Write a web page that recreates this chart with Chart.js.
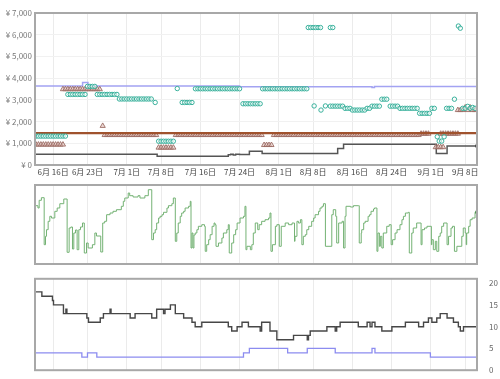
<!DOCTYPE html>
<html><head><meta charset="utf-8">
<script src="https://cdn.jsdelivr.net/npm/chart.js@4.4.0/dist/chart.umd.min.js"></script>
<style>
html,body{margin:0;padding:0;background:#fff;width:500px;height:379px;overflow:hidden}
canvas{position:absolute;left:0}
#c1{top:0}#c2{top:180px}#c3{top:270px}
</style></head><body>
<canvas id="c1" width="500" height="180"></canvas>
<canvas id="c2" width="500" height="90"></canvas>
<canvas id="c3" width="500" height="109"></canvas>
<script>
// x values are days since 6月16日
const tickDays = [0,7,15,22,30,38,46,53,61,69,77,84];
const tickLabels = ['6月 16日','6月 23日','7月 1日','7月 8日','7月 16日','7月 24日','8月 1日','8月 8日','8月 16日','8月 24日','9月 1日','9月 8日'];
const xMin = -3.7, xMax = 86.4;

// top panel (yen)
const listPriceLine = [[-3.7,3640],[6.0,3800],[7.1,3640],[38,3600],[65,3570],[65.5,3610],[86.4,3610]];
const brownPriceLine = [[-3.7,1470],[86.4,1470]];
const darkPriceLine = [[-3.7,500],[21.2,400],[35.7,470],[36.2,490],[36.7,465],[37.2,490],[38,480],[40,630],[42.6,530],[58.0,760],[59.2,960],[78.1,530],[80.3,870],[86.4,870]];
const tealPoints = [
[-3.5,1330],[-3,1330],[-2.5,1330],[-2,1330],[-1.5,1330],[-1,1330],[-0.5,1330],[0,1330],[0.5,1330],[1,1330],[1.5,1330],[2,1330],[2.5,1330],
[3,3250],[3.5,3250],[4,3250],[4.5,3250],[5,3250],[5.5,3250],[6,3250],[6.5,3250],
[7,3620],[7.5,3620],[8,3620],[8.5,3620],
[9,3250],[9.5,3250],[10,3250],[10.5,3250],[11,3250],[11.5,3250],[12,3250],[12.5,3250],[13,3250],
[13.5,3040],[14,3040],[14.5,3040],[15,3040],[15.5,3040],[16,3040],[16.5,3040],[17,3040],[17.5,3040],[18,3040],[18.5,3040],[19,3040],[19.5,3040],[20,3040],
[20.8,2880],
[21.5,1095],[22,1095],[22.5,1095],[23,1095],[23.5,1095],[24,1095],[24.5,1095],
[25.3,3520],
[26.3,2880],[26.8,2880],[27.3,2880],[27.8,2880],[28.3,2880],
[29,3510],[29.5,3510],[30,3510],[30.5,3510],[31,3510],[31.5,3510],[32,3510],[32.5,3510],[33,3510],[33.5,3510],[34,3510],[34.5,3510],[35,3510],[35.5,3510],[36,3510],[36.5,3510],[37,3510],[37.5,3510],[38,3510],
[38.7,2820],[39.2,2820],[39.7,2820],[40.2,2820],[40.7,2820],[41.2,2820],[41.7,2820],[42.2,2820],
[42.7,3510],[43.2,3510],[43.7,3510],[44.2,3510],[44.7,3510],[45.2,3510],[45.7,3510],[46.2,3510],[46.7,3510],[47.2,3510],[47.7,3510],[48.2,3510],[48.7,3510],[49.2,3510],[49.7,3510],[50.2,3510],[50.7,3510],[51.2,3510],[51.7,3510],
[52,6330],[52.5,6330],[53,6330],[53.5,6330],[54,6330],[54.5,6330],[56.5,6330],[57,6330],
[53.2,2720],[54.6,2530],[55.5,2720],
[56.5,2710],[57,2710],[57.5,2710],[58,2710],[58.5,2710],[59,2710],[59.5,2610],[60,2610],[60.5,2610],
[61,2530],[61.5,2530],[62,2530],[62.5,2530],[63,2530],[63.5,2530],[64,2610],[64.5,2610],
[65,2710],[65.5,2710],[66,2710],[66.5,2710],[67,3030],[67.5,3030],[68,3030],
[68.7,2710],[69.2,2710],[69.7,2710],[70.2,2710],
[70.7,2610],[71.2,2610],[71.7,2610],[72.2,2610],[72.7,2610],[73.2,2610],[73.7,2610],[74.2,2610],
[74.7,2380],[75.2,2380],[75.7,2380],[76.2,2380],[76.7,2380],[77.2,2610],[77.7,2610],
[78.3,1300],[78.7,1100],[79.2,1100],[79.7,1300],
[80.2,2610],[80.7,2610],[81.2,2610],[81.8,3030],[82.6,6400],[83,6300],
[83.5,2610],[84,2610],[84.5,2700],[85,2610],[85.5,2650],[86,2610]
];
const trianglePoints = [
[-3.5,940],[-3,940],[-2.5,940],[-2,940],[-1.5,940],[-1,940],[-0.5,940],[0,940],[0.5,940],[1,940],[1.5,940],[2,940],
[2,3490],[2.5,3490],[3,3490],[3.5,3490],[4,3490],[4.5,3490],[5,3490],[5.5,3490],[6,3490],[6.5,3490],[7,3490],[7.5,3490],[8,3490],[8.5,3490],[9,3490],[9.5,3490],
[10.1,1800],
[10.5,1380],[11,1380],[11.5,1380],[12,1380],[12.5,1380],[13,1380],[13.5,1380],[14,1380],[14.5,1380],[15,1380],[15.5,1380],[16,1380],[16.5,1380],[17,1380],[17.5,1380],[18,1380],[18.5,1380],[19,1380],[19.5,1380],[20,1380],[20.5,1380],[21,1380],
[21.5,800],[22,800],[22.5,800],[23,800],[23.5,800],[24,800],[24.5,800],
[25,1380],[25.5,1380],[26,1380],[26.5,1380],[27,1380],[27.5,1380],[28,1380],[28.5,1380],[29,1380],[29.5,1380],[30,1380],[30.5,1380],[31,1380],[31.5,1380],[32,1380],[32.5,1380],[33,1380],[33.5,1380],[34,1380],[34.5,1380],[35,1380],[35.5,1380],[36,1380],[36.5,1380],[37,1380],[37.5,1380],[38,1380],[38.5,1380],[39,1380],[39.5,1380],[40,1380],[40.5,1380],[41,1380],[41.5,1380],[42,1380],[42.5,1380],
[43,920],[43.5,920],[44,920],[44.5,920],
[45,1380],[45.5,1380],[46,1380],[46.5,1380],[47,1380],[47.5,1380],[48,1380],[48.5,1380],[49,1380],[49.5,1380],[50,1380],[50.5,1380],[51,1380],[51.5,1380],[52,1380],[52.5,1380],[53,1380],[53.5,1380],[54,1380],[54.5,1380],[55,1380],[55.5,1380],[56,1380],[56.5,1380],[57,1380],[57.5,1380],[58,1380],[58.5,1380],[59,1380],[59.5,1380],
[60,1380],[60.5,1380],[61,1380],[61.5,1380],[62,1380],[62.5,1380],[63,1380],[63.5,1380],[64,1380],[64.5,1380],[65,1380],[65.5,1380],[66,1380],[66.5,1380],[67,1380],[67.5,1380],[68,1380],[68.5,1380],[69,1380],[69.5,1380],[70,1380],[70.5,1380],[71,1380],[71.5,1380],[72,1380],[72.5,1380],[73,1380],[73.5,1380],[74,1380],[74.5,1380],
[75,1440],[75.5,1440],[76,1440],[76.5,1440],[79,1440],[79.5,1440],[80,1440],[80.5,1440],[81,1440],[81.5,1440],[82,1440],[82.5,1440],
[78,820],[78.5,820],[79,820],[79.5,820],
[82.5,2530],[83,2530],[83.5,2530],[84,2650],[84.5,2530],[85,2650],[85.5,2530],[86,2530]
];

// middle panel (relative sales-rank level, unlabeled)
const rankSteps = [
[-3.6,58.3],[-3.1,56],[-2.85,63.7],[-2.4,66.3],[-1.83,19.3],[-1.56,27.7],[-1.36,34.3],[-1.02,42.7],[-0.68,47.7],[-0.34,46],[0.34,52.7],[0.82,56],[1.36,60.3],[2.17,65],[2.85,11.7],[3.26,36],[3.6,37],[3.94,15],[4.21,31],[4.55,34],[4.89,14.3],[5.23,34.3],[5.57,37],[5.98,41],[6.35,11],[6.8,21],[7.14,16],[8.0,19.3],[8.5,31],[8.83,28],[9.7,12],[10.1,41],[10.5,42.7],[10.9,49.3],[11.6,51],[12.2,52.7],[12.9,54.3],[13.9,57.7],[14.3,62.7],[14.6,66],[15.3,71],[15.6,68.3],[16.3,67],[17.3,68.3],[17.7,66],[18.7,68.3],[19.4,74.3],
[20.1,24.3],[20.45,31],[20.8,34.3],[21.1,41],[21.5,46],[21.8,47.7],[22.2,49.3],[22.5,51.7],[23.2,56],[23.5,58.3],[24.2,60.3],[24.5,66],[24.9,22.7],[25.2,31],[25.5,41],[25.9,47.7],[26.2,51],[26.6,52.7],[26.9,56],[27.6,57.7],[27.95,62.7],[28.1,16],[28.3,31],[28.5,16],[28.7,29],[28.95,31],[29.3,34.3],[29.6,37.7],[30.3,39.3],[30.85,37.7],[31.0,12.7],[31.3,19.3],[31.7,24.3],[32.0,29.3],[32.4,37.7],[32.8,41],[33.0,39.3],[33.2,17.7],[33.7,21],[34.4,26],[34.7,31],[35.4,34.3],[35.7,39.3],[35.9,11],[36.4,21],[36.8,29.3],[37.2,34.3],[37.5,41],[38.1,46],[38.8,47.7],[39.1,57.7],[39.3,14.3],[39.5,17.7],[40.2,14.3],[40.5,19.3],[40.8,31],[41.2,41],
[41.7,34.3],[42.0,39.3],[42.5,42.7],[43.2,44.3],[43.9,46],[44.2,51],[44.4,12.7],[44.7,19.3],[45.3,37.7],[45.6,39.3],[46.1,17.7],[46.5,37.7],[47.3,41],[48.0,39.3],[48.7,41],[49.2,22.7],[49.3,27.7],[49.7,42.7],[50.0,41],[50.4,44.3],[50.7,19.3],[51.0,27.7],[51.4,29.3],[51.7,34.3],[52.1,37.7],[52.7,42.7],[53.1,46],[53.4,49.3],[54.1,52.7],[54.4,56],[54.8,57.7],[55.1,60.3],[55.5,17.7],[56.8,49.3],[57.1,54.3],[57.6,47.7],[57.8,21],[58.2,41],[58.9,42.7],[59.2,16],[59.5,47.7],[59.7,57.7],[60.6,57],[61.2,58.3],[62.2,58.3],[62.4,21],[62.8,31],[62.9,34.3],[63.3,41],[63.6,42.7],[64.2,47.7],
[64.5,49.3],[64.8,52.7],[65.3,55],[65.5,56],[66.0,12.7],[66.2,31],[66.5,17.7],[66.7,27.7],[67.0,16],[67.3,31],[68.0,37.7],[68.5,39.3],[68.9,19.3],[69.2,24.3],[69.7,31],[70.1,34.3],[70.7,39.3],[71.1,44.3],[71.4,47.7],[71.8,51],[72.4,51.7],[72.6,11],[73.1,31],[73.4,36],[74.1,41],[75.0,19.3],[75.2,34.3],[75.7,36],[76.2,37.7],[77.1,19.3],[77.2,24.3],[77.5,14.3],[77.9,22.7],[78.2,12.7],[78.6,27.7],[78.9,31],[79.2,37.7],[79.6,41],[80.3,19.3],[80.6,27.7],[81.1,36],[81.4,37.7],[81.8,12.7],[82.3,17.7],[83.3,27.7],[83.6,36],[84.0,31],[84.2,19.3],[84.3,31],[84.7,37.7],[85.0,44.3],[85.4,46],[86.0,51.7],[86.4,51.7]
];

// bottom panel (counts, right axis)
const countBlackSteps = [[-3.67,18],[-2.3,17],[-0.14,16],[0.07,15],[2.1,13],[2.6,14],[2.8,13],[6.87,12],[7.2,11],[9.6,12],[10.25,13],[11.6,14],[11.8,13],[15.7,12],[16.7,13],[20.1,12],[21.1,14],[22.5,13],[22.8,14],[23.9,15],[24.9,13],[26.6,12],[28.3,11],[28.95,10],[30.3,11],[35.7,10],[36.4,9],[37.5,10],[38.5,11],[39.8,10],[42.2,9],[42.5,11],[44.2,9],[45.6,7],[49.0,8],[51.8,7],[52.05,8],[52.4,9],[55.8,10],[57.5,9],[57.8,10],[58.5,11],[62.2,10],[64.0,11],[64.6,10],[65.0,11],[65.6,10],[67.0,9],[69.05,10],[71.8,11],[74.5,10],[75.5,11],[76.5,12],[77.2,11],[78.2,12],[78.9,13],[80.3,12],[81.6,11],[82.6,10],[83.0,9],[83.65,10],[86.4,10]];
const countBlueSteps = [[-3.67,4],[5.85,3],[7.0,4],[8.9,3],[38.8,4],[40.0,5],[47.8,4],[51.8,5],[57.5,4],[65.0,5],[65.6,4],[76.9,3],[86.4,3]];
const rightTicks = [0,5,10,15,20];

const FONT = "'Noto Sans CJK JP', 'Noto Sans', sans-serif";
const toXY = a => a.map(p => ({x:p[0], y:p[1]}));
const lastDot = arr => (c => c.dataIndex === arr.length - 1 ? 2 : 0);

const frame = {id:'frame', afterDraw(chart){
  const {ctx, chartArea:a} = chart;
  ctx.save(); ctx.strokeStyle = '#a8a8a8'; ctx.lineWidth = 2;
  ctx.strokeRect(a.left, a.top, a.right - a.left, a.bottom - a.top); ctx.restore();
}};

function xScale(showLabels){
  return {
    type:'linear', min:xMin, max:xMax,
    afterBuildTicks: s => { s.ticks = tickDays.map(v => ({value:v})); },
    grid:{color:'#ebebeb', drawTicks:false},
    border:{display:false},
    ticks:{display:showLabels, autoSkip:false, maxRotation:0, padding:2, color:'#444',
      font:{family:FONT, size:8}, callback:(v, i) => tickLabels[i]},
    afterFit: s => { s.height = showLabels ? 15 : 0; }
  };
}
const baseOpts = {responsive:false, animation:false, events:[],
  plugins:{legend:{display:false}, tooltip:{enabled:false}}};

new Chart(document.getElementById('c1'), {
  type:'scatter',
  data:{datasets:[
    {data:toXY(listPriceLine), showLine:true, stepped:true, borderColor:'#a3a3f2', borderWidth:1.5, pointRadius:0, order:6},
    {data:toXY(darkPriceLine), showLine:true, stepped:true, borderColor:'#555', borderWidth:1.5, pointRadius:lastDot(darkPriceLine), pointBackgroundColor:'#444', pointBorderWidth:0, order:5},
    {data:toXY(trianglePoints), pointStyle:'triangle', pointRadius:3, borderColor:'#9c6c64', backgroundColor:'rgba(220,186,180,0.55)', borderWidth:0.9, order:4},
    {data:toXY(brownPriceLine), showLine:true, borderColor:'#a0522d', borderWidth:2.2, pointRadius:0, order:3},
    {data:toXY(tealPoints), pointStyle:'circle', pointRadius:2.2, borderColor:'#38b09b', backgroundColor:'rgba(255,255,255,0.5)', borderWidth:1, order:2}
  ]},
  options:{...baseOpts,
    layout:{padding:{left:0, right:23, top:13, bottom:0}},
    scales:{
      x:xScale(true),
      y:{min:0, max:7000, ticks:{stepSize:1000, padding:3, color:'#777', font:{family:FONT, size:8},
          callback:v => '¥ ' + Number(v).toLocaleString('en-US')},
        grid:{color:'#f1f1f1', drawTicks:false}, border:{display:false},
        afterFit:s => { s.width = 35; }}
    }},
  plugins:[frame]
});

new Chart(document.getElementById('c2'), {
  type:'scatter',
  data:{datasets:[
    {data:toXY(rankSteps), showLine:true, stepped:true, borderColor:'#74b274', borderWidth:1, pointRadius:lastDot(rankSteps), pointBackgroundColor:'#4e8e4e', pointBorderWidth:0}
  ]},
  options:{...baseOpts,
    layout:{padding:{left:35, right:23, top:5, bottom:6}},
    scales:{x:xScale(false), y:{display:false, min:0, max:79}}},
  plugins:[frame]
});

new Chart(document.getElementById('c3'), {
  type:'scatter',
  data:{datasets:[
    {data:toXY(countBlackSteps), showLine:true, stepped:true, borderColor:'#474747', borderWidth:1.4, pointRadius:0, order:1},
    {data:toXY(countBlueSteps), showLine:true, stepped:true, borderColor:'#8c8cf0', borderWidth:1.3, pointRadius:0, order:2}
  ]},
  options:{...baseOpts,
    layout:{padding:{left:35, right:0, top:7, bottom:5}},
    scales:{
      x:xScale(false),
      y:{position:'right', min:0, max:21,
        afterBuildTicks: s => { s.ticks = rightTicks.map(v => ({value:v})); },
        ticks:{padding:4, color:'#666', font:{family:FONT, size:8}},
        grid:{display:false}, border:{display:false},
        afterFit:s => { s.width = 23; }}
    }},
  plugins:[frame]
});
</script>
</body></html>
